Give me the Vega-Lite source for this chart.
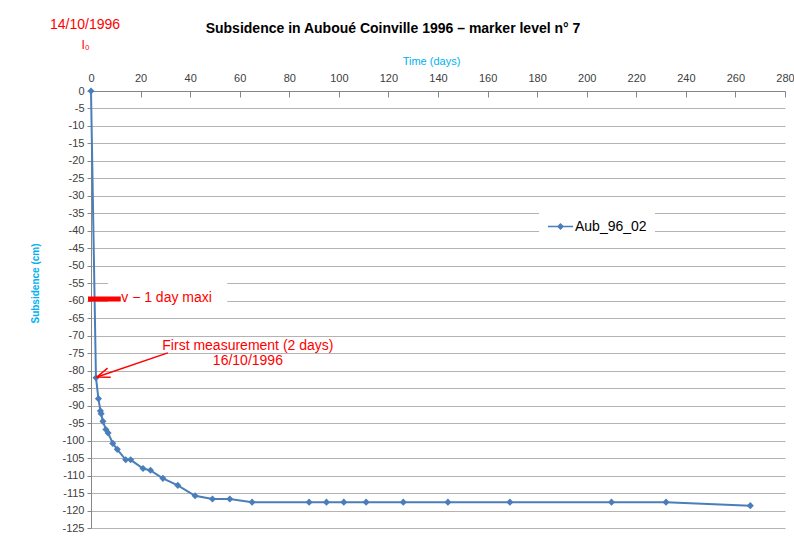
{
  "$schema": "https://vega.github.io/schema/vega-lite/v6.json",
  "width": 694,
  "height": 437,
  "autosize": {"type": "none"},
  "padding": {"left": 91, "top": 91, "right": 9, "bottom": 11},
  "background": "white",
  "config": {
    "font": "Liberation Sans",
    "view": {"stroke": null}
  },
  "title": {
    "text": "Subsidence in Auboué Coinville 1996 – marker level n° 7",
    "fontSize": 14,
    "fontWeight": "bold",
    "color": "#000000",
    "anchor": "middle",
    "frame": "group",
    "dx": -45,
    "dy": 32,
    "offset": 14
  },
  "datasets": {
    "series": [
      {"day": 0, "subsidence": 0, "series": "Aub_96_02"},
      {"day": 2, "subsidence": -82, "series": "Aub_96_02"},
      {"day": 3, "subsidence": -88, "series": "Aub_96_02"},
      {"day": 3.8, "subsidence": -91.5, "series": "Aub_96_02"},
      {"day": 4.1, "subsidence": -92.3, "series": "Aub_96_02"},
      {"day": 4.8, "subsidence": -94.5, "series": "Aub_96_02"},
      {"day": 6, "subsidence": -96.8, "series": "Aub_96_02"},
      {"day": 6.9, "subsidence": -97.8, "series": "Aub_96_02"},
      {"day": 8.8, "subsidence": -100.8, "series": "Aub_96_02"},
      {"day": 10.6, "subsidence": -102.5, "series": "Aub_96_02"},
      {"day": 14, "subsidence": -105.5, "series": "Aub_96_02"},
      {"day": 16, "subsidence": -105.5, "series": "Aub_96_02"},
      {"day": 21, "subsidence": -108, "series": "Aub_96_02"},
      {"day": 24, "subsidence": -108.5, "series": "Aub_96_02"},
      {"day": 29, "subsidence": -110.8, "series": "Aub_96_02"},
      {"day": 35, "subsidence": -112.8, "series": "Aub_96_02"},
      {"day": 42, "subsidence": -115.8, "series": "Aub_96_02"},
      {"day": 49, "subsidence": -116.7, "series": "Aub_96_02"},
      {"day": 56, "subsidence": -116.7, "series": "Aub_96_02"},
      {"day": 65, "subsidence": -117.6, "series": "Aub_96_02"},
      {"day": 88, "subsidence": -117.6, "series": "Aub_96_02"},
      {"day": 95, "subsidence": -117.6, "series": "Aub_96_02"},
      {"day": 102, "subsidence": -117.6, "series": "Aub_96_02"},
      {"day": 111, "subsidence": -117.6, "series": "Aub_96_02"},
      {"day": 126, "subsidence": -117.6, "series": "Aub_96_02"},
      {"day": 144, "subsidence": -117.6, "series": "Aub_96_02"},
      {"day": 169, "subsidence": -117.6, "series": "Aub_96_02"},
      {"day": 210, "subsidence": -117.6, "series": "Aub_96_02"},
      {"day": 232, "subsidence": -117.6, "series": "Aub_96_02"},
      {"day": 266, "subsidence": -118.6, "series": "Aub_96_02"}
    ],
    "centerLabels": [
      {"day": -2.4, "subsidence": 18.8, "label": "14/10/1996", "size": 14},
      {"day": -2.2, "subsidence": 13.3, "label": "I₀", "size": 12},
      {"day": 63.3, "subsidence": -72.9, "label": "First measurement  (2 days)", "size": 14},
      {"day": 63.3, "subsidence": -77.2, "label": "16/10/1996", "size": 14}
    ],
    "leftLabels": [
      {"day": 12.2, "subsidence": -59.3, "label": "v − 1 day maxi"}
    ],
    "boxes": [
      {"day": 6.9, "day2": 55, "subsidence": -52, "subsidence2": -63}
    ],
    "bar": [
      {"day": -1.2, "day2": 12, "subsidence": -59.5}
    ],
    "arrow": [
      {"day": 31, "subsidence": -74.9, "day2": 2.4, "subsidence2": -81.8}
    ],
    "head": [
      {"day": 2.4, "subsidence": -81.8}
    ]
  },
  "encoding": {
    "x": {
      "field": "day",
      "type": "quantitative",
      "scale": {"domain": [0, 280], "nice": false, "zero": false},
      "axis": {
        "orient": "top",
        "title": "Time (days)",
        "titleColor": "#00B0F0",
        "titleFontSize": 11,
        "titleFontWeight": "normal",
        "titlePadding": 6,
        "titleAnchor": "middle",
        "titleX": 340,
        "values": [0, 20, 40, 60, 80, 100, 120, 140, 160, 180, 200, 220, 240, 260, 280],
        "labelFontSize": 11,
        "labelColor": "#404040",
        "labelPadding": 14,
        "labelFlush": false,
        "labelOverlap": false,
        "grid": false,
        "domainColor": "#868686",
        "tickColor": "#868686",
        "tickSize": -6
      }
    },
    "y": {
      "field": "subsidence",
      "type": "quantitative",
      "scale": {"domain": [-125, 0], "nice": false, "zero": false},
      "axis": {
        "title": "Subsidence (cm)",
        "titleColor": "#00B0F0",
        "titleFontSize": 10,
        "titleFontWeight": "bold",
        "titleX": -51,
        "titleY": 192,
        "values": [0, -5, -10, -15, -20, -25, -30, -35, -40, -45, -50, -55, -60, -65, -70, -75, -80, -85, -90, -95, -100, -105, -110, -115, -120, -125],
        "tickCount": 26,
        "labelExpr": "replace(datum.label, '−', '-')",
        "labelFontSize": 11,
        "labelColor": "#404040",
        "labelPadding": 3,
        "labelOverlap": false,
        "labelFlush": false,
        "grid": true,
        "gridColor": "#B3B3B3",
        "gridWidth": 1,
        "domainColor": "#868686",
        "tickColor": "#868686",
        "tickSize": 4
      }
    }
  },
  "layer": [
    {
      "data": {"name": "boxes"},
      "mark": {"type": "rect", "fill": "white", "stroke": null},
      "encoding": {
        "x2": {"field": "day2"},
        "y2": {"field": "subsidence2"}
      }
    },
    {
      "data": {"name": "series"},
      "mark": {
        "type": "line",
        "interpolate": "linear",
        "strokeWidth": 2,
        "point": {"shape": "diamond", "size": 50, "filled": true}
      },
      "encoding": {
        "color": {
          "field": "series",
          "type": "nominal",
          "scale": {"range": ["#4A7EBB"]},
          "legend": {
            "orient": "none",
            "legendX": 448,
            "legendY": 114,
            "title": null,
            "fillColor": "white",
            "padding": 8,
            "labelFontSize": 14,
            "labelColor": "#000000",
            "symbolType": "M-1,0H1M-0.2,0L0,-0.2L0.2,0L0,0.2Z",
            "symbolSize": 625,
            "symbolStrokeWidth": 1.5,
            "symbolFillColor": "#4A7EBB",
            "symbolStrokeColor": "#4A7EBB",
            "labelOffset": 1
          }
        }
      }
    },
    {
      "data": {"name": "bar"},
      "mark": {"type": "rule", "color": "#FF0000", "strokeWidth": 5},
      "encoding": {
        "x2": {"field": "day2"}
      }
    },
    {
      "data": {"name": "arrow"},
      "mark": {"type": "rule", "color": "#FF0000", "strokeWidth": 1.5},
      "encoding": {
        "x2": {"field": "day2"},
        "y2": {"field": "subsidence2"}
      }
    },
    {
      "data": {"name": "head"},
      "mark": {
        "type": "point",
        "shape": "M-0.6,1.6L0,0L0.6,1.6",
        "filled": false,
        "stroke": "#FF0000",
        "strokeWidth": 1.5,
        "size": 260,
        "angle": 251,
        "opacity": 1
      }
    },
    {
      "data": {"name": "centerLabels"},
      "mark": {"type": "text", "color": "#FF0000", "baseline": "middle", "align": "center"},
      "encoding": {
        "text": {"field": "label"},
        "size": {"field": "size", "type": "quantitative", "scale": null}
      }
    },
    {
      "data": {"name": "leftLabels"},
      "mark": {"type": "text", "color": "#FF0000", "baseline": "middle", "align": "left", "fontSize": 14},
      "encoding": {
        "text": {"field": "label"}
      }
    }
  ]
}
